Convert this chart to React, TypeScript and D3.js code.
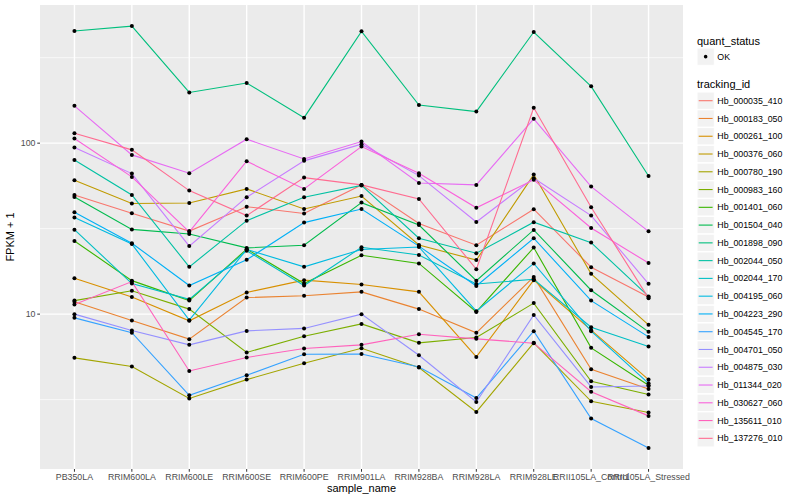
import React from "react";
import * as d3 from "d3";

// sample order on the x axis
const samples = [
  "PB350LA",
  "RRIM600LA",
  "RRIM600LE",
  "RRIM600SE",
  "RRIM600PE",
  "RRIM901LA",
  "RRIM928BA",
  "RRIM928LA",
  "RRIM928LE",
  "RRII105LA_Control",
  "RRII105LA_Stressed",
];

const trackingIds = [
  "Hb_000035_410",
  "Hb_000183_050",
  "Hb_000261_100",
  "Hb_000376_060",
  "Hb_000780_190",
  "Hb_000983_160",
  "Hb_001401_060",
  "Hb_001504_040",
  "Hb_001898_090",
  "Hb_002044_050",
  "Hb_002044_170",
  "Hb_004195_060",
  "Hb_004223_290",
  "Hb_004545_170",
  "Hb_004701_050",
  "Hb_004875_030",
  "Hb_011344_020",
  "Hb_030627_060",
  "Hb_135611_010",
  "Hb_137276_010",
];

// FPKM + 1, one value per sample
const hb000035_410 = [49.8, 38.9, 30.6, 42.5, 38.8, 57.0, 33.9, 25.3, 41.1, 18.8, 12.6];
const hb000183_050 = [11.8, 9.19, 7.14, 12.5, 12.8, 13.5, 10.7, 7.77, 16.5, 4.76, 3.65];
const hb000261_100 = [16.2, 12.6, 9.14, 13.4, 15.8, 14.9, 13.5, 5.62, 15.8, 8.06, 4.14];
const hb000376_060 = [60.7, 44.4, 44.7, 54.0, 41.2, 49.1, 25.4, 20.7, 65.5, 17.2, 8.66];
const hb000780_190 = [5.55, 4.94, 3.21, 4.14, 5.16, 6.32, 4.87, 2.68, 6.79, 3.09, 2.66];
const hb000983_160 = [12.0, 13.7, 10.7, 5.97, 7.43, 8.77, 6.79, 7.3, 11.6, 4.05, 3.39];
const hb001401_060 = [26.8, 15.7, 12.0, 24.0, 15.1, 22.1, 19.8, 10.3, 24.5, 6.35, 3.84];
const hb001504_040 = [48.5, 31.3, 29.4, 24.4, 25.3, 44.9, 33.2, 15.7, 31.1, 13.8, 7.88];
const hb001898_090 = [453, 484, 198, 225, 141, 451, 167, 153, 447, 215, 64.3];
const hb002044_050 = [79.8, 49.8, 18.9, 35.2, 48.3, 56.6, 27.8, 22.7, 34.5, 26.2, 12.7];
const hb002044_170 = [31.2, 15.1, 12.2, 23.5, 14.7, 24.6, 22.2, 15.0, 16.0, 8.39, 6.47];
const hb004195_060 = [36.7, 25.7, 9.22, 23.9, 18.9, 23.9, 24.7, 10.4, 19.8, 7.95, 3.94];
const hb004223_290 = [39.4, 26.0, 14.7, 20.8, 34.3, 41.2, 25.0, 14.6, 27.8, 12.0, 7.36];
const hb004545_170 = [9.51, 7.79, 3.35, 4.39, 5.83, 5.85, 4.91, 3.23, 7.95, 2.45, 1.65];
const hb004701_050 = [10.0, 8.03, 6.61, 7.98, 8.25, 10.0, 5.75, 3.06, 9.9, 3.75, 3.8];
const hb004875_030 = [94.2, 66.4, 25.0, 48.3, 78.8, 98.7, 64.6, 34.6, 62.4, 37.7, 15.05];
const hb011344_020 = [165.4, 85.4, 66.7, 105.5, 80.9, 102.2, 58.5, 57.0, 138.8, 55.7, 30.5];
const hb030627_060 = [106.4, 63.5, 30.3, 78.4, 54.0, 95.5, 66.7, 41.9, 61.0, 31.9, 19.9];
const hb135611_010 = [11.4, 15.5, 4.65, 5.58, 6.3, 6.61, 7.63, 7.17, 6.76, 3.52, 2.54];
const hb137276_010 = [114.4, 91.4, 52.8, 37.7, 62.9, 57.0, 47.2, 18.3, 161, 42.2, 12.4];

const seriesValues = [
  hb000035_410, hb000183_050, hb000261_100, hb000376_060, hb000780_190,
  hb000983_160, hb001401_060, hb001504_040, hb001898_090, hb002044_050,
  hb002044_170, hb004195_060, hb004223_290, hb004545_170, hb004701_050,
  hb004875_030, hb011344_020, hb030627_060, hb135611_010, hb137276_010,
];

// ggplot2 default hue palette, 20 levels
const palette = [
  "#F8766D", "#EA8331", "#D89000", "#C09B00", "#A3A500",
  "#7CAE00", "#39B600", "#00BB4E", "#00BF7D", "#00C1A3",
  "#00BFC4", "#00BAE0", "#00B0F6", "#35A2FF", "#9590FF",
  "#C77CFF", "#E76BF3", "#FA62DB", "#FF62BC", "#FF6C91",
];

const yTicks = [10, 100];
const yMinor = [Math.pow(10, 0.5), Math.pow(10, 1.5), Math.pow(10, 2.5)];

const W = 800;
const H = 500;
const panel = { left: 40, right: 683, top: 5, bottom: 469 };
const font = "'Liberation Sans', Arial, Helvetica, sans-serif";

const App = () => {
  const x = d3
    .scalePoint<string>()
    .domain(samples)
    .range([panel.left, panel.right])
    .padding(0.6);

  const allLogs = seriesValues.flat().map((v) => Math.log10(v));
  const [lo, hi] = d3.extent(allLogs) as [number, number];
  const pad = (hi - lo) * 0.05;
  const y = d3
    .scaleLog()
    .domain([Math.pow(10, lo - pad), Math.pow(10, hi + pad)])
    .range([panel.bottom, panel.top]);

  const line = d3
    .line<number>()
    .x((_, i) => x(samples[i]) as number)
    .y((v) => y(v));

  const legendX = 697;
  const keyH = 17.3;
  const keyStep = 17.77;
  const firstKey = 100.7;

  return (
    <svg
      width={W}
      height={H}
      style={{ position: "absolute", left: 0, top: 0, background: "#fff" }}
      fontFamily={font}
    >
      <rect
        x={panel.left}
        y={panel.top}
        width={panel.right - panel.left}
        height={panel.bottom - panel.top}
        fill="#EBEBEB"
      />
      {yMinor.map((v) => (
        <line
          key={"mi" + v}
          x1={panel.left}
          x2={panel.right}
          y1={y(v)}
          y2={y(v)}
          stroke="#fff"
          strokeWidth={0.7}
        />
      ))}
      {yTicks.map((v) => (
        <line
          key={"ma" + v}
          x1={panel.left}
          x2={panel.right}
          y1={y(v)}
          y2={y(v)}
          stroke="#fff"
          strokeWidth={1.4}
        />
      ))}
      {samples.map((s) => (
        <line
          key={"gx" + s}
          x1={x(s)}
          x2={x(s)}
          y1={panel.top}
          y2={panel.bottom}
          stroke="#fff"
          strokeWidth={1.4}
        />
      ))}

      {seriesValues.map((vals, i) => (
        <path
          key={"l" + i}
          d={line(vals) as string}
          fill="none"
          stroke={palette[i]}
          strokeWidth={1.1}
        />
      ))}
      {seriesValues.map((vals, i) =>
        vals.map((v, j) => (
          <circle
            key={"p" + i + "_" + j}
            cx={x(samples[j])}
            cy={y(v)}
            r={2}
            fill="#000"
          />
        ))
      )}

      {/* y axis */}
      {yTicks.map((v) => (
        <g key={"yt" + v}>
          <line
            x1={panel.left - 2.75}
            x2={panel.left}
            y1={y(v)}
            y2={y(v)}
            stroke="#333"
            strokeWidth={1}
          />
          <text
            x={panel.left - 4.5}
            y={y(v)}
            dy="0.35em"
            textAnchor="end"
            fontSize={8.8}
            fill="#4D4D4D"
          >
            {v}
          </text>
        </g>
      ))}
      <text
        transform={`translate(14,${(panel.top + panel.bottom) / 2}) rotate(-90)`}
        textAnchor="middle"
        fontSize={11}
        fill="#000"
      >
        FPKM + 1
      </text>

      {/* x axis */}
      {samples.map((s) => (
        <g key={"xt" + s}>
          <line
            x1={x(s)}
            x2={x(s)}
            y1={panel.bottom}
            y2={panel.bottom + 2.75}
            stroke="#333"
            strokeWidth={1}
          />
          <text
            x={x(s)}
            y={panel.bottom + 10.5}
            textAnchor="middle"
            fontSize={8.8}
            fill="#4D4D4D"
          >
            {s}
          </text>
        </g>
      ))}
      <text
        x={(panel.left + panel.right) / 2}
        y={492}
        textAnchor="middle"
        fontSize={11}
        fill="#000"
      >
        sample_name
      </text>

      {/* legend: quant_status */}
      <text x={legendX} y={44.5} fontSize={11} fill="#000">
        quant_status
      </text>
      <rect x={legendX} y={48} width={keyH} height={keyH} fill="#F2F2F2" stroke="#fff" />
      <circle cx={legendX + keyH / 2} cy={48 + keyH / 2} r={1.8} fill="#000" />
      <text x={legendX + keyH + 3} y={48 + keyH / 2} dy="0.35em" fontSize={8.8} fill="#000">
        OK
      </text>

      {/* legend: tracking_id */}
      <text x={legendX} y={88} fontSize={11} fill="#000">
        tracking_id
      </text>
      {trackingIds.map((id, i) => {
        const cy = firstKey + i * keyStep;
        return (
          <g key={"lg" + id}>
            <rect
              x={legendX}
              y={cy - keyH / 2}
              width={keyH}
              height={keyH}
              fill="#F2F2F2"
              stroke="#fff"
            />
            <line
              x1={legendX + 1.7}
              x2={legendX + keyH - 1.7}
              y1={cy}
              y2={cy}
              stroke={palette[i]}
              strokeWidth={1.1}
            />
            <text x={legendX + keyH + 3} y={cy} dy="0.35em" fontSize={8.8} fill="#000">
              {id}
            </text>
          </g>
        );
      })}
    </svg>
  );
};

export default App;
